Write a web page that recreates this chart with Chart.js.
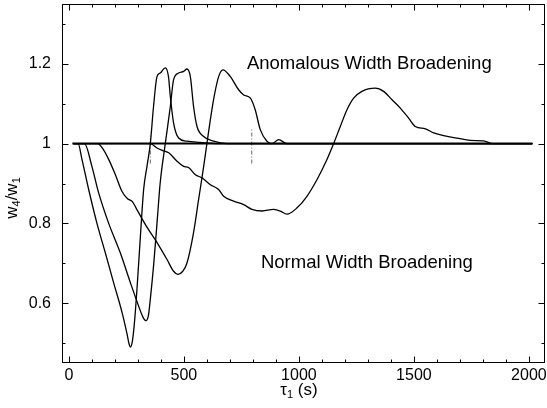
<!DOCTYPE html>
<html>
<head>
<meta charset="utf-8">
<script src="https://cdn.jsdelivr.net/npm/chart.js@4/dist/chart.umd.min.js"></script>
<style>
  html, body { margin: 0; padding: 0; background: #fff; }
</style>
</head>
<body>
<canvas id="chart" width="547" height="408"></canvas>
<script>
// tau_1 (s) and w4/w1, one pair of arrays per curve
const curveAX = [20, 40, 57, 86, 122, 158, 194, 231, 252, 262, 268, 276, 284, 296, 310, 325, 340, 354, 368, 383, 397, 419, 433, 441, 455, 477, 513, 571, 650, 2015];
const curveAY = [1, 1, 0.96, 0.885, 0.80, 0.727, 0.652, 0.577, 0.525, 0.497, 0.49, 0.505, 0.545, 0.635, 0.76, 0.885, 0.945, 1.0, 1.093, 1.168, 1.177, 1.19, 1.168, 1.118, 1.052, 1.014, 1.006, 1.003, 1.0, 1.0];

const curveBX = [20, 68, 100, 129, 173, 223, 267, 303, 322, 335, 346, 354, 368, 383, 397, 419, 441, 455, 477, 499, 513, 528, 542, 557, 586, 629, 687, 2015];
const curveBY = [1, 1, 0.943, 0.877, 0.80, 0.727, 0.652, 0.593, 0.565, 0.556, 0.57, 0.61, 0.693, 0.80, 0.902, 1.0, 1.093, 1.16, 1.177, 1.181, 1.187, 1.168, 1.093, 1.043, 1.018, 1.006, 1.0, 1.0];

const curveCX = [20, 125, 150, 175, 200, 231, 255, 275, 300, 340, 380, 426, 455, 474, 495, 513, 542, 564, 586, 600, 629, 651, 670, 702, 738, 760, 789, 810, 832, 861, 883, 912, 948, 2015];
const curveCY = [1, 1, 0.985, 0.958, 0.925, 0.88, 0.862, 0.855, 0.83, 0.79, 0.755, 0.71, 0.68, 0.672, 0.68, 0.70, 0.777, 0.86, 0.943, 1.0, 1.11, 1.168, 1.185, 1.168, 1.135, 1.122, 1.114, 1.085, 1.035, 1.006, 1.0, 1.01, 1.0, 1.0];

const curveDX = [20, 354, 383, 412, 434, 470, 499, 520, 550, 579, 615, 651, 673, 716, 760, 796, 840, 890, 919, 948, 992, 1035, 1079, 1122, 1151, 1180, 1209, 1238, 1274, 1332, 1368, 1405, 1441, 1477, 1506, 1550, 1586, 1629, 1687, 1745, 1803, 1840, 2015];
const curveDY = [1, 1, 0.989, 0.982, 0.977, 0.956, 0.943, 0.94, 0.922, 0.914, 0.897, 0.885, 0.868, 0.856, 0.847, 0.835, 0.831, 0.835, 0.831, 0.823, 0.839, 0.868, 0.91, 0.96, 1.0, 1.043, 1.085, 1.114, 1.131, 1.139, 1.131, 1.11, 1.089, 1.064, 1.043, 1.037, 1.027, 1.02, 1.014, 1.008, 1.007, 1.0, 1.0];

// reference line at 1 and the two dash-dot markers
const baseX = [15, 2015];
const baseY = [1, 1];
const markerX = [354, 795];
const markerLow = [0.95, 0.95];
const markerHigh = [1.02, 1.04];

const xTickValues = [0, 500, 1000, 1500, 2000];
const yTickValues = [0.6, 0.8, 1, 1.2];
const xMinorStep = 100;
const yMinorStep = 0.1;

const notes = [
  { text: 'Anomalous Width Broadening', x: 774, y: 1.2 },
  { text: 'Normal Width Broadening', x: 835, y: 0.70 }
];

const FONT = '"Liberation Sans", Arial, Helvetica, sans-serif';

function toPoints(xs, ys) {
  return xs.map((x, i) => ({ x: x, y: ys[i] }));
}

function curve(xs, ys) {
  return {
    data: toPoints(xs, ys),
    borderColor: '#000',
    borderWidth: 1.3,
    pointRadius: 0,
    fill: false,
    cubicInterpolationMode: 'monotone'
  };
}

const datasets = [
  curve(curveAX, curveAY),
  curve(curveBX, curveBY),
  curve(curveCX, curveCY),
  curve(curveDX, curveDY),
  {
    data: toPoints(baseX, baseY),
    borderColor: '#000',
    borderWidth: 2,
    pointRadius: 0,
    fill: false
  }
];
markerX.forEach((mx, i) => {
  datasets.push({
    data: [{ x: mx, y: markerLow[i] }, { x: mx, y: markerHigh[i] }],
    borderColor: '#666',
    borderWidth: 1,
    borderDash: [4, 2, 1, 2],
    pointRadius: 0,
    fill: false
  });
});

// draw text with subscripts: parts = [[text, isSub], ...]
function drawRich(ctx, parts, size) {
  let w = 0;
  parts.forEach(p => {
    ctx.font = (p[1] ? Math.round(size * 0.62) : size) + 'px ' + FONT;
    w += ctx.measureText(p[0]).width;
  });
  let cx = -w / 2;
  parts.forEach(p => {
    ctx.font = (p[1] ? Math.round(size * 0.62) : size) + 'px ' + FONT;
    ctx.fillText(p[0], cx, p[1] ? size * 0.3 : 0);
    cx += ctx.measureText(p[0]).width;
  });
}

const framePlugin = {
  id: 'frame',
  afterDraw(chart) {
    const ctx = chart.ctx;
    const a = chart.chartArea;
    const xs = chart.scales.x;
    const ys = chart.scales.y;
    const L = Math.round(a.left) + 0.5, R = Math.round(a.right) - 0.5;
    const T = Math.round(a.top) + 0.5, B = Math.round(a.bottom) - 0.5;
    ctx.save();
    ctx.strokeStyle = '#000';
    ctx.lineWidth = 1;
    ctx.strokeRect(L, T, R - L, B - T);

    // inward ticks on all four sides
    ctx.beginPath();
    for (let v = 0; v <= 2000 + 1e-6; v += xMinorStep) {
      const len = xTickValues.includes(v) ? 6 : 3;
      const px = Math.round(xs.getPixelForValue(v)) + 0.5;
      ctx.moveTo(px, B); ctx.lineTo(px, B - len);
      ctx.moveTo(px, T); ctx.lineTo(px, T + len);
    }
    for (let k = 5; k <= 13; k++) {
      const v = k * yMinorStep;
      const major = yTickValues.some(t => Math.abs(t - v) < 1e-6);
      const len = major ? 6 : 3;
      const py = Math.round(ys.getPixelForValue(v)) + 0.5;
      ctx.moveTo(L, py); ctx.lineTo(L + len, py);
      ctx.moveTo(R, py); ctx.lineTo(R - len, py);
    }
    ctx.stroke();

    // annotations
    ctx.fillStyle = '#000';
    ctx.font = '18.5px ' + FONT;
    ctx.textBaseline = 'middle';
    ctx.textAlign = 'left';
    notes.forEach(n => {
      ctx.fillText(n.text, xs.getPixelForValue(n.x), ys.getPixelForValue(n.y));
    });

    // axis titles with subscripts
    ctx.textAlign = 'left';
    ctx.textBaseline = 'middle';
    ctx.save();
    ctx.translate(xs.getPixelForValue(1000), 390);
    drawRich(ctx, [['τ', false], ['1', true], [' (s)', false]], 17);
    ctx.restore();

    ctx.save();
    ctx.translate(12, 198);
    ctx.rotate(-Math.PI / 2);
    drawRich(ctx, [['w', false], ['4', true], ['/w', false], ['1', true]], 17);
    ctx.restore();

    ctx.restore();
  }
};

new Chart(document.getElementById('chart'), {
  type: 'line',
  data: { datasets: datasets },
  options: {
    responsive: false,
    animation: false,
    layout: { padding: { top: 4, right: 2, left: 0, bottom: 0 } },
    plugins: {
      legend: { display: false },
      tooltip: { enabled: false }
    },
    scales: {
      x: {
        type: 'linear',
        min: -30,
        max: 2070,
        afterBuildTicks: s => { s.ticks = xTickValues.map(v => ({ value: v })); },
        afterFit: s => { s.height = 45; s.paddingLeft = 0; s.paddingRight = 0; },
        grid: { display: false, drawTicks: false },
        border: { display: false },
        ticks: {
          color: '#000',
          padding: 3,
          maxRotation: 0,
          autoSkip: false,
          font: { family: FONT, size: 16 },
          callback: v => String(v)
        }
      },
      y: {
        type: 'linear',
        min: 0.45,
        max: 1.35,
        afterBuildTicks: s => { s.ticks = yTickValues.map(v => ({ value: v })); },
        afterFit: s => { s.width = 62; s.paddingTop = 0; s.paddingBottom = 0; },
        grid: { display: false, drawTicks: false },
        border: { display: false },
        ticks: {
          color: '#000',
          padding: 11,
          autoSkip: false,
          font: { family: FONT, size: 16 },
          callback: v => String(v)
        }
      }
    }
  },
  plugins: [framePlugin]
});
</script>
</body>
</html>
